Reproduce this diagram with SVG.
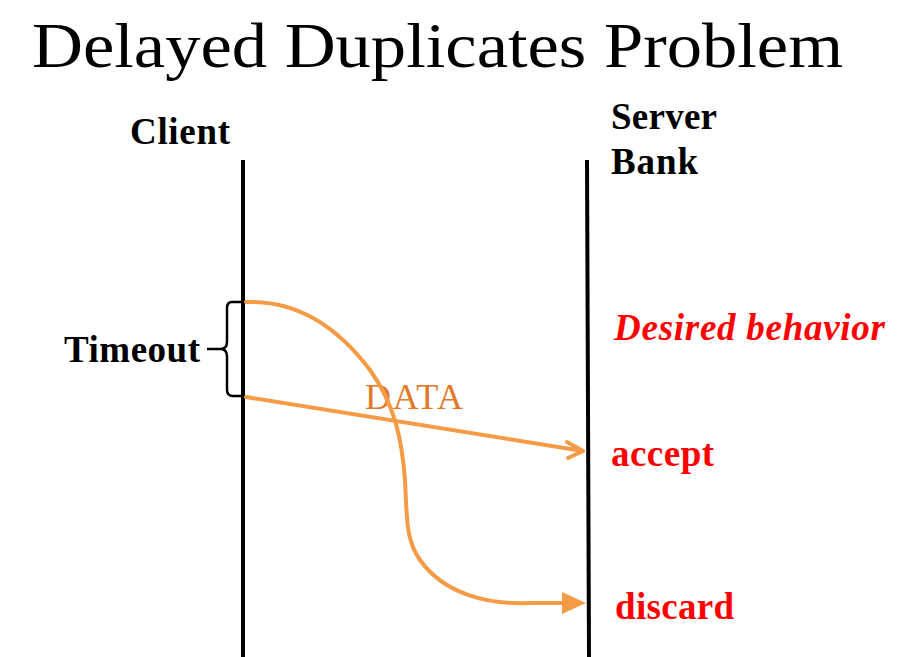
<svg xmlns="http://www.w3.org/2000/svg" width="904" height="657" viewBox="0 0 904 657">
<style>
.t{font-family:"Liberation Serif",serif}
.b{font-family:"Liberation Serif",serif;font-weight:bold;font-size:37px}
.r{fill:#ff0000}
.o{fill:none;stroke:#f59a45;stroke-width:4;stroke-linecap:round;stroke-linejoin:round}
.k{fill:none;stroke:#000;stroke-width:4}
</style>
<rect width="904" height="657" fill="#fff"/>
<text class="t" x="32" y="67" font-size="64" textLength="811" lengthAdjust="spacingAndGlyphs">Delayed Duplicates Problem</text>
<g id="client"><text class="b" x="130" y="144" textLength="100">Client</text><line class="k" x1="243" y1="160" x2="243" y2="657"/></g>
<g id="server"><text class="b" x="611" y="129" textLength="106">Server</text><text class="b" x="611" y="174" textLength="87">Bank</text><line class="k" x1="587" y1="160" x2="589" y2="657"/></g>
<g id="timeout"><text class="b" x="64" y="362" textLength="136">Timeout</text>
<path d="M243,302 H232 Q227,302 227,308 V342 Q227,349 220,349 H207 M220,349 Q227,349 227,356 V390 Q227,396 233,396 H243" fill="none" stroke="#000" stroke-width="2.5"/></g>
<g id="labels">
<text class="b r" x="614" y="340" font-style="italic" textLength="271">Desired behavior</text>
<text class="b r" x="611" y="466" textLength="103">accept</text>
<text class="b r" x="615" y="619" textLength="119">discard</text>
<text class="t" x="365" y="409" font-size="36" fill="#e07a2a" textLength="98">DATA</text>
</g>
<g id="connectors">
<path class="o" d="M246,397 L583,451 M567,442 L583,451 L568,458"/>
<path class="o" d="M246,302 C300,300 340,330 370,370 C395,405 402,440 405,480 C407,520 406,540 420,560 C445,595 490,605 530,603 L570,603"/>
<path d="M562,592 L586,603 L562,614 Z" fill="#f59a45"/>
</g>
</svg>
